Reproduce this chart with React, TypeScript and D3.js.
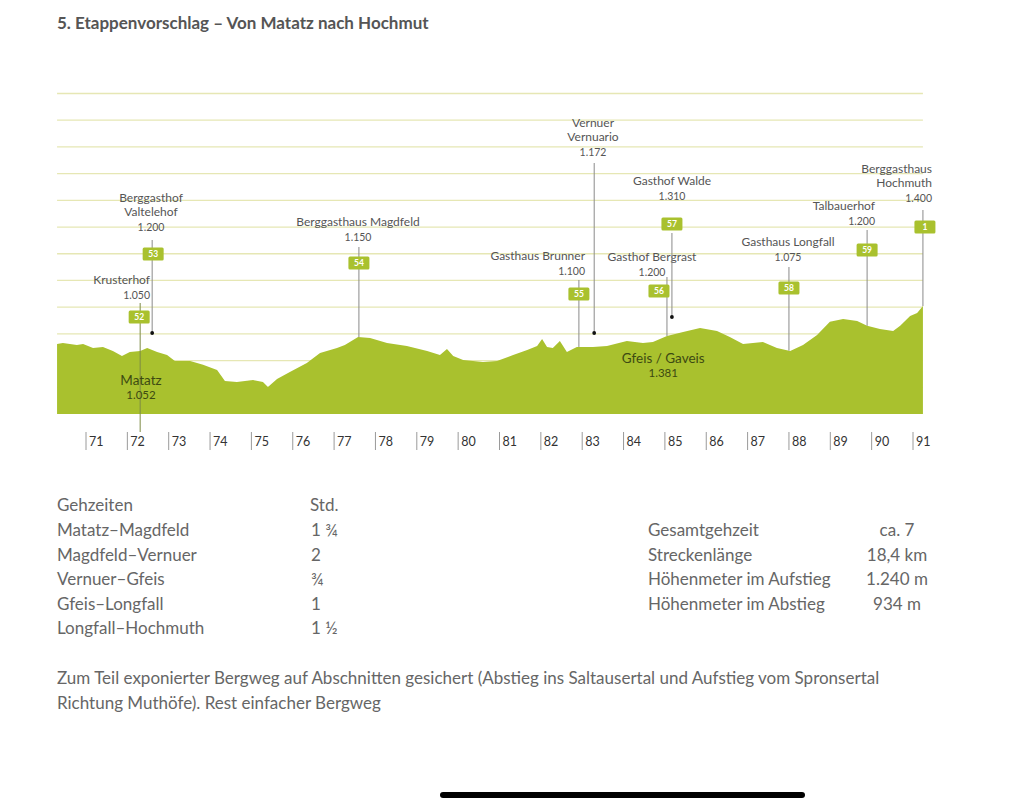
import * as d3 from "d3";

const width = 1024;
const height = 807;
const font = "Lato, 'Open Sans', sans-serif";

// elevation profile (km mark, metres)
const profileKm = [
  70.3, 70.44, 70.78, 70.93, 71.17, 71.41, 71.65, 71.87, 72.06, 72.31, 72.48, 72.72, 72.96, 73.15,
  73.52, 73.83, 74.17, 74.36, 74.65, 75.04, 75.28, 75.4, 75.62, 75.93, 76.34, 76.66, 77.07, 77.26,
  77.38, 77.58, 77.87, 78.28, 78.76, 79.25, 79.56, 79.73, 79.88, 80.12, 80.6, 80.94, 81.33, 81.67,
  81.91, 82.03, 82.15, 82.29, 82.46, 82.63, 82.87, 83.26, 83.6, 84.08, 84.47, 84.71, 85.05, 85.44,
  85.85, 86.26, 86.57, 86.89, 87.37, 87.71, 88.03, 88.34, 88.68, 88.99, 89.31, 89.65, 89.89, 90.2,
  90.52, 90.69, 90.93, 91.1, 91.24,
];
const profileElev = [
  1262, 1266, 1258, 1262, 1247, 1251, 1236, 1217, 1232, 1236, 1247, 1232, 1221, 1198,
  1198, 1184, 1165, 1124, 1120, 1127, 1120, 1101, 1131, 1157, 1191, 1228, 1247, 1258,
  1270, 1288, 1285, 1266, 1255, 1236, 1221, 1243, 1217, 1202, 1195, 1198, 1221, 1240,
  1255, 1281, 1251, 1247, 1273, 1232, 1251, 1251, 1255, 1273, 1266, 1270, 1292, 1307,
  1322, 1311, 1288, 1262, 1270, 1247, 1236, 1258, 1296, 1345, 1356, 1348, 1330, 1318,
  1311, 1330, 1367, 1378, 1404,
];

const kmTicks = d3.range(71, 92);
const gridElev = d3.range(1100, 2201, 100);

// huts along the way
const poiNames = [
  ["Krusterhof"],
  ["Berggasthof", "Valtelehof"],
  ["Berggasthaus Magdfeld"],
  ["Gasthaus Brunner"],
  ["Vernuer", "Vernuario"],
  ["Gasthof Bergrast"],
  ["Gasthof Walde"],
  ["Gasthaus Longfall"],
  ["Talbauerhof"],
  ["Berggasthaus", "Hochmuth"],
];
const poiHeights = ["1.050", "1.200", "1.150", "1.100", "1.172", "1.200", "1.310", "1.075", "1.200", "1.400"];
const poiKm = [72.31, 72.6, 77.6, 82.92, 83.29, 85.05, 85.17, 88.0, 89.89, 91.24];
const poiStage = ["52", "53", "54", "55", "", "56", "57", "58", "59", "1"];

const townNames = ["Matatz", "Gfeis / Gaveis"];
const townHeights = ["1.052", "1.381"];
const townKm = [72.33, 84.96];

const timeRoutes = ["Matatz–Magdfeld", "Magdfeld–Vernuer", "Vernuer–Gfeis", "Gfeis–Longfall", "Longfall–Hochmuth"];
const timeHours = ["1 ¾", "2", "¾", "1", "1 ½"];
const factLabels = ["Gesamtgehzeit", "Streckenlänge", "Höhenmeter im Aufstieg", "Höhenmeter im Abstieg"];
const factValues = ["ca. 7", "18,4 km", "1.240 m", "934 m"];

// label placement (px)
type Lay = { anchor: string; tx: number; ty: number; boxDx: number; boxY: number; top: number; end: "terrain" | "dot" | "through"; dotY?: number };
const layout: Lay[] = [
  { anchor: "end", tx: 150, ty: 284, boxDx: -1, boxY: 317, top: 303, end: "through" },
  { anchor: "middle", tx: 151, ty: 202, boxDx: 1, boxY: 254, top: 240, end: "dot", dotY: 333 },
  { anchor: "middle", tx: 358, ty: 226, boxDx: 0, boxY: 263, top: 247, end: "terrain" },
  { anchor: "end", tx: 585, ty: 260, boxDx: 0, boxY: 294, top: 280, end: "terrain" },
  { anchor: "middle", tx: 593, ty: 127, boxDx: 0, boxY: 0, top: 163, end: "dot", dotY: 333 },
  { anchor: "middle", tx: 652, ty: 261, boxDx: -8, boxY: 291, top: 277, end: "terrain" },
  { anchor: "middle", tx: 672, ty: 185, boxDx: 0, boxY: 224, top: 233, end: "dot", dotY: 317 },
  { anchor: "middle", tx: 788, ty: 246, boxDx: 0, boxY: 288, top: 267, end: "terrain" },
  { anchor: "end", tx: 875, ty: 210, boxDx: 0, boxY: 250, top: 230, end: "terrain" },
  { anchor: "end", tx: 932, ty: 173, boxDx: 2, boxY: 227, top: 210, end: "terrain" },
];

const green = "#a9c12e";
const gridColor = "#e6e7b4";
const textColor = "#555";
const lineStep = 14;

const App = () => {
  const x = d3.scaleLinear().domain([71, 91]).range([86, 913]);
  const y = d3.scaleLinear().domain([1000, 2200]).range([414, 93.5]);

  const pts = profileKm.map((k, i) => [k, profileElev[i]] as [number, number]);
  const area = d3
    .area<[number, number]>()
    .x((d) => x(d[0]))
    .y0(y(1000))
    .y1((d) => y(d[1]));

  const terrainAt = (k: number) => {
    const i = d3.bisector((d: [number, number]) => d[0]).left(pts, k);
    if (i <= 0) return pts[0][1];
    if (i >= pts.length) return pts[pts.length - 1][1];
    const a = pts[i - 1];
    const b = pts[i];
    return a[1] + ((b[1] - a[1]) * (k - a[0])) / (b[0] - a[0]);
  };

  const x0 = x(profileKm[0]);
  const x1 = x(profileKm[profileKm.length - 1]);

  return (
    <svg width={width} height={height} style={{ position: "absolute", left: 0, top: 0, background: "#fff" }} fontFamily={font}>
      <text x={57} y={29} fontSize={17} fontWeight={700} fill="#555">
        5. Etappenvorschlag – Von Matatz nach Hochmut
      </text>

      {gridElev.map((e) => (
        <line key={e} x1={x0} x2={x1} y1={y(e)} y2={y(e)} stroke={gridColor} strokeWidth={1.3} />
      ))}

      <path d={area(pts) ?? ""} fill={green} />

      {poiKm.map((k, i) => {
        const l = layout[i];
        const lx = x(k);
        const bottom = l.end === "terrain" ? y(terrainAt(k)) : l.end === "dot" ? l.dotY! : 432;
        return (
          <g key={i}>
            <line x1={lx} x2={lx} y1={l.top} y2={bottom} stroke={l.end === "through" ? "#7d8a45" : "#8a8a8a"} strokeWidth={1} />
            {l.end === "dot" && <circle cx={lx} cy={l.dotY} r={1.9} fill="#111" />}
            {poiStage[i] && (
              <g>
                <rect x={lx + l.boxDx - 10.5} y={l.boxY - 6.5} width={21} height={13} rx={1.5} fill={green} />
                <text x={lx + l.boxDx} y={l.boxY + 3} textAnchor="middle" fontSize={8.5} fontWeight={700} fill="#fff">
                  {poiStage[i]}
                </text>
              </g>
            )}
            {poiNames[i].map((n, j) => (
              <text key={j} x={l.tx} y={l.ty + j * lineStep} textAnchor={l.anchor} fontSize={12} fill={textColor}>
                {n}
              </text>
            ))}
            <text x={l.tx} y={l.ty + poiNames[i].length * lineStep + 1} textAnchor={l.anchor} fontSize={10.5} fill={textColor}>
              {poiHeights[i]}
            </text>
          </g>
        );
      })}

      {townKm.map((k, i) => (
        <g key={i}>
          <text x={x(k)} y={i === 0 ? 385 : 363} textAnchor="middle" fontSize={13.5} fill="#3d4a12">
            {townNames[i]}
          </text>
          <text x={x(k)} y={i === 0 ? 399 : 377} textAnchor="middle" fontSize={11.5} fill="#3d4a12">
            {townHeights[i]}
          </text>
        </g>
      ))}

      {kmTicks.map((t) => (
        <g key={t}>
          <line x1={x(t)} x2={x(t)} y1={432} y2={450} stroke="#9a9a9a" strokeWidth={1} />
          <text x={x(t) + 3} y={446} fontSize={12.5} fill="#333">
            {t}
          </text>
        </g>
      ))}

      <g fontSize={17} fill="#666">
        <text x={57} y={511}>Gehzeiten</text>
        <text x={310} y={511}>Std.</text>
        {timeRoutes.map((r, i) => (
          <g key={r}>
            <text x={57} y={536 + i * 24.6}>{r}</text>
            <text x={311} y={536 + i * 24.6}>{timeHours[i]}</text>
          </g>
        ))}
        {factLabels.map((f, i) => (
          <g key={f}>
            <text x={648} y={536 + i * 24.6}>{f}</text>
            <text x={897} y={536 + i * 24.6} textAnchor="middle">{factValues[i]}</text>
          </g>
        ))}
        <text x={57} y={684}>
          Zum Teil exponierter Bergweg auf Abschnitten gesichert (Abstieg ins Saltausertal und Aufstieg vom Spronsertal
        </text>
        <text x={57} y={709}>Richtung Muthöfe). Rest einfacher Bergweg</text>
      </g>

      <rect x={440} y={792} width={365} height={6} rx={3} fill="#000" />
    </svg>
  );
};

export default App;
